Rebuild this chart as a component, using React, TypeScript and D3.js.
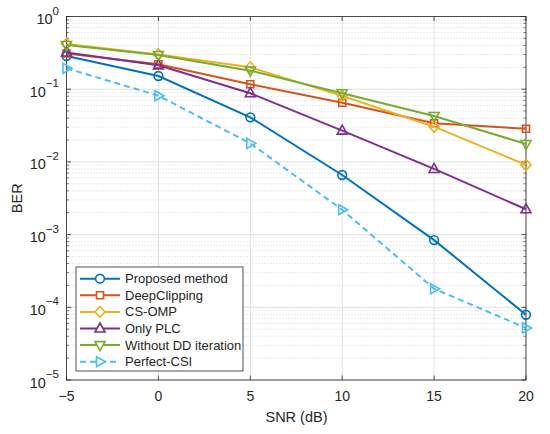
import React from "react";
import * as d3 from "d3";

const snr = [-5, 0, 5, 10, 15, 20];

const proposed = [0.286, 0.152, 0.041, 0.0066, 0.00084, 0.000079];
const deepClipping = [0.31, 0.22, 0.117, 0.065, 0.034, 0.0286];
const csOmp = [0.42, 0.3, 0.2, 0.081, 0.0305, 0.0091];
const onlyPlc = [0.32, 0.213, 0.088, 0.0269, 0.008, 0.00223];
const withoutDD = [0.405, 0.295, 0.18, 0.0878, 0.0428, 0.0176];
const perfectCsi = [0.194, 0.0814, 0.018, 0.0022, 0.00018, 0.000052];

const xTicks = [-5, 0, 5, 10, 15, 20];
const yExponents = [0, -1, -2, -3, -4, -5];

type Marker = "circle" | "square" | "diamond" | "up" | "down" | "right";

const series: { name: string; values: number[]; color: string; marker: Marker; dashed?: boolean }[] = [
  { name: "Proposed method", values: proposed, color: "#0072BD", marker: "circle" },
  { name: "DeepClipping", values: deepClipping, color: "#D95319", marker: "square" },
  { name: "CS-OMP", values: csOmp, color: "#EDB120", marker: "diamond" },
  { name: "Only PLC", values: onlyPlc, color: "#7E2F8E", marker: "up" },
  { name: "Without DD iteration", values: withoutDD, color: "#77AC30", marker: "down" },
  { name: "Perfect-CSI", values: perfectCsi, color: "#4DBEEE", marker: "right", dashed: true },
];

const W = 550;
const H = 434;
const left = 66.5;
const right = 526;
const top = 16.5;
const bottom = 380;
const textColor = "#262626";
const font = "'Liberation Sans', Arial, sans-serif";

const x = d3.scaleLinear().domain([-5, 20]).range([left, right]);
const y = d3.scaleLog().domain([1e-5, 1]).range([bottom, top]);

function markerPath(m: Marker): string {
  switch (m) {
    case "circle":
      return d3.symbol(d3.symbolCircle, 60)() || "";
    case "square":
      return "M-3.5,-3.5H3.5V3.5H-3.5Z";
    case "diamond":
      return "M0,-5.5L5,0L0,5.5L-5,0Z";
    case "up":
      return "M0,-5.5L5,3.5H-5Z";
    case "down":
      return "M0,5.5L5,-3.5H-5Z";
    case "right":
      return "M5.5,0L-3.5,5V-5Z";
  }
}

export default function App() {
  const line = d3
    .line<number>()
    .x((_, i) => x(snr[i]))
    .y((d) => y(d));

  const minorTicks: number[] = [];
  for (let e = -5; e < 0; e++) {
    for (let k = 2; k <= 9; k++) minorTicks.push(k * Math.pow(10, e));
  }

  const legendX = 76;
  const legendY = 267;
  const legendRow = 16.6;

  return (
    <svg
      width={W}
      height={H}
      style={{ position: "absolute", left: 0, top: 0, background: "#fff" }}
      fontFamily={font}
    >
      <rect x={0} y={0} width={W} height={H} fill="#fff" />
      {/* minor grid */}
      {minorTicks.map((v) => (
        <line
          key={"mg" + v}
          x1={left}
          x2={right}
          y1={y(v)}
          y2={y(v)}
          stroke="#cfcfcf"
          strokeWidth={0.8}
          strokeDasharray="1,2"
        />
      ))}
      {/* major grid */}
      {yExponents.map((e) => (
        <line key={"gy" + e} x1={left} x2={right} y1={y(Math.pow(10, e))} y2={y(Math.pow(10, e))} stroke="#e0e0e0" strokeWidth={1} />
      ))}
      {xTicks.map((t) => (
        <line key={"gx" + t} x1={x(t)} x2={x(t)} y1={top} y2={bottom} stroke="#e0e0e0" strokeWidth={1} />
      ))}

      {/* axis box */}
      <rect x={left} y={top} width={right - left} height={bottom - top} fill="none" stroke={textColor} strokeWidth={0.8} />
      {/* ticks */}
      {xTicks.map((t) => (
        <g key={"tx" + t}>
          <line x1={x(t)} x2={x(t)} y1={bottom} y2={bottom - 4.5} stroke={textColor} strokeWidth={0.8} />
          <line x1={x(t)} x2={x(t)} y1={top} y2={top + 4.5} stroke={textColor} strokeWidth={0.8} />
          <text x={x(t)} y={396} textAnchor="middle" dominantBaseline="central" fontSize={14} fill={textColor}>
            {t < 0 ? "\u2212" + Math.abs(t) : t}
          </text>
        </g>
      ))}
      {yExponents.map((e) => (
        <g key={"ty" + e}>
          <line x1={left} x2={left + 4.5} y1={y(Math.pow(10, e))} y2={y(Math.pow(10, e))} stroke={textColor} strokeWidth={0.8} />
          <line x1={right} x2={right - 4.5} y1={y(Math.pow(10, e))} y2={y(Math.pow(10, e))} stroke={textColor} strokeWidth={0.8} />
          <text x={59} y={y(Math.pow(10, e)) + 7.5} textAnchor="end" fontSize={14.5} fill={textColor}>
            10
            <tspan dy={-9.5} fontSize={11.5}>
              {e === 0 ? "0" : "\u2212" + Math.abs(e)}
            </tspan>
          </text>
        </g>
      ))}
      {minorTicks.map((v) => (
        <g key={"mt" + v}>
          <line x1={left} x2={left + 2.5} y1={y(v)} y2={y(v)} stroke={textColor} strokeWidth={0.6} />
          <line x1={right} x2={right - 2.5} y1={y(v)} y2={y(v)} stroke={textColor} strokeWidth={0.6} />
        </g>
      ))}

      {/* axis titles */}
      <text x={296.5} y={417} textAnchor="middle" dominantBaseline="central" fontSize={14.5} fill={textColor}>
        SNR (dB)
      </text>
      <text
        transform={`translate(17,${(top + bottom) / 2}) rotate(-90)`}
        textAnchor="middle"
        dominantBaseline="central"
        fontSize={14.5}
        fill={textColor}
      >
        BER
      </text>

      {/* series */}
      {series.map((s) => (
        <g key={s.name}>
          <path
            d={line(s.values) || ""}
            fill="none"
            stroke={s.color}
            strokeWidth={2}
            strokeDasharray={s.dashed ? "6,4" : undefined}
          />
          {s.values.map((v, i) => (
            <path
              key={i}
              d={markerPath(s.marker)}
              transform={`translate(${x(snr[i])},${y(v)})`}
              fill="none"
              stroke={s.color}
              strokeWidth={1.6}
            />
          ))}
        </g>
      ))}

      {/* legend */}
      <rect x={legendX} y={legendY} width={167} height={104} fill="#fff" stroke={textColor} strokeWidth={0.8} />
      {series.map((s, i) => {
        const cy = legendY + 11.7 + i * legendRow;
        return (
          <g key={"lg" + s.name}>
            <line
              x1={80}
              x2={120}
              y1={cy}
              y2={cy}
              stroke={s.color}
              strokeWidth={2}
              strokeDasharray={s.dashed ? "6,4" : undefined}
            />
            <path d={markerPath(s.marker)} transform={`translate(100,${cy})`} fill="#fff" stroke={s.color} strokeWidth={1.6} />
            <text x={125} y={cy} dominantBaseline="central" fontSize={13} fill={textColor}>
              {s.name}
            </text>
          </g>
        );
      })}
    </svg>
  );
}
